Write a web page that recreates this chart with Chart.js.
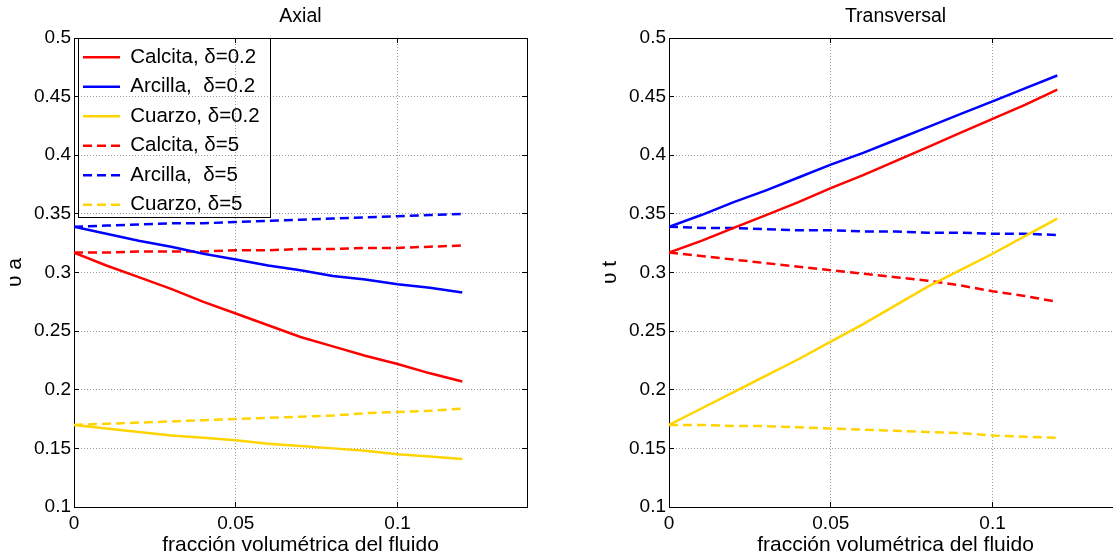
<!DOCTYPE html>
<html lang="es">
<head>
<meta charset="utf-8">
<title>Axial y Transversal</title>
<script src="https://cdn.jsdelivr.net/npm/chart.js@4/dist/chart.umd.min.js"></script>
<style>
  html, body { margin: 0; padding: 0; background: #fff; }
  #lienzo { position: relative; width: 1113px; height: 560px; overflow: hidden; }
  canvas { position: absolute; top: 0; }
  #axial { left: 0; }
  #transversal { left: 595px; }
</style>
</head>
<body>
<div id="lienzo">
  <canvas id="axial" width="601" height="560"></canvas>
  <canvas id="transversal" width="601" height="560"></canvas>
</div>
<script>
// eje x: fracción volumétrica del fluido
const fraccion = [0, 0.01, 0.02, 0.03, 0.04, 0.05, 0.06, 0.07, 0.08, 0.09, 0.10, 0.11, 0.12];
const ticksX = [0, 0.05, 0.1];
const ticksY = [0.1, 0.15, 0.2, 0.25, 0.3, 0.35, 0.4, 0.45, 0.5];

const etiquetas = ['Calcita, δ=0.2', 'Arcilla,  δ=0.2', 'Cuarzo, δ=0.2',
                   'Calcita, δ=5', 'Arcilla,  δ=5', 'Cuarzo, δ=5'];

// Axial (υ a)
const calcitaAx02 = [0.317, 0.306, 0.296, 0.286, 0.275, 0.265, 0.255, 0.245, 0.237, 0.229, 0.222, 0.214, 0.207];
const arcillaAx02 = [0.339, 0.333, 0.327, 0.322, 0.316, 0.311, 0.306, 0.302, 0.297, 0.294, 0.290, 0.287, 0.283];
const cuarzoAx02  = [0.170, 0.167, 0.164, 0.161, 0.159, 0.157, 0.154, 0.152, 0.150, 0.148, 0.145, 0.143, 0.141];
const calcitaAx5  = [0.317, 0.317, 0.318, 0.318, 0.318, 0.319, 0.319, 0.320, 0.320, 0.321, 0.321, 0.322, 0.323];
const arcillaAx5  = [0.339, 0.340, 0.341, 0.342, 0.342, 0.343, 0.344, 0.345, 0.346, 0.347, 0.348, 0.349, 0.350];
const cuarzoAx5   = [0.170, 0.171, 0.172, 0.173, 0.174, 0.175, 0.176, 0.177, 0.178, 0.180, 0.181, 0.182, 0.184];

// Transversal (υ t)
const calcitaTr02 = [0.317, 0.327, 0.338, 0.349, 0.360, 0.372, 0.383, 0.395, 0.407, 0.419, 0.431, 0.443, 0.456];
const arcillaTr02 = [0.339, 0.349, 0.360, 0.370, 0.381, 0.392, 0.402, 0.413, 0.424, 0.435, 0.446, 0.457, 0.468];
const cuarzoTr02  = [0.170, 0.184, 0.198, 0.212, 0.226, 0.241, 0.256, 0.272, 0.288, 0.302, 0.316, 0.331, 0.346];
const calcitaTr5  = [0.317, 0.314, 0.311, 0.308, 0.305, 0.302, 0.299, 0.296, 0.293, 0.289, 0.284, 0.280, 0.275];
const arcillaTr5  = [0.339, 0.338, 0.338, 0.337, 0.336, 0.336, 0.335, 0.335, 0.334, 0.334, 0.333, 0.333, 0.332];
const cuarzoTr5   = [0.170, 0.170, 0.169, 0.169, 0.168, 0.167, 0.166, 0.165, 0.164, 0.163, 0.161, 0.160, 0.159];

const colores = ['#ff0000', '#0000ff', '#ffd400', '#ff0000', '#0000ff', '#ffd400'];
const trazos = [[], [], [], [9, 5], [9, 5], [9, 5]];

Chart.defaults.font.family = '"Liberation Sans", Arial, sans-serif';
Chart.defaults.color = '#000';

// marco negro alrededor de la leyenda (como en MATLAB)
const marcoLeyenda = {
  id: 'marcoLeyenda',
  afterDraw(chart) {
    const lg = chart.legend;
    if (!lg || !lg.options.display || !lg.legendHitBoxes || !lg.legendHitBoxes.length) return;
    const cajas = lg.legendHitBoxes;
    const izq = Math.min(...cajas.map(c => c.left)) - 5;
    const der = Math.max(...cajas.map(c => c.left + c.width)) + 10;
    const arriba = chart.chartArea.top;
    const abajo = Math.max(...cajas.map(c => c.top + c.height)) + 2;
    const ctx = chart.ctx;
    ctx.save();
    ctx.strokeStyle = '#000';
    ctx.lineWidth = 1;
    ctx.strokeRect(Math.round(izq) + 0.5, Math.round(arriba) + 0.5, Math.round(der - izq), Math.round(abajo - arriba));
    ctx.restore();
  }
};

const rejilla = { color: '#9a9a9a', lineWidth: 1, tickLength: -5, tickColor: '#000', tickBorderDash: [] };
const borde = { color: '#000', width: 1, dash: [1, 2] };

function crearGrafico(id, titulo, ejeY, series, conLeyenda) {
  const datasets = series.map((vals, i) => ({
    label: etiquetas[i],
    data: fraccion.map((x, j) => ({ x: x, y: vals[j] })),
    borderColor: colores[i],
    backgroundColor: colores[i],
    borderDash: trazos[i],
    borderWidth: 2.5,
    pointRadius: 0,
    tension: 0,
    fill: false
  }));

  return new Chart(document.getElementById(id), {
    type: 'line',
    data: { datasets },
    plugins: [marcoLeyenda],
    options: {
      responsive: false,
      animation: false,
      events: [],
      layout: { padding: 0 },
      scales: {
        x: {
          type: 'linear', position: 'bottom', min: 0, max: 0.14,
          afterBuildTicks: s => { s.ticks = ticksX.map(v => ({ value: v })); },
          afterFit: s => { s.height = 53; },
          ticks: { font: { size: 19 }, padding: 10, color: '#000', callback: v => String(v) },
          grid: rejilla,
          border: borde,
          title: { display: true, text: 'fracción volumétrica del fluido', color: '#000',
                   font: { size: 21 }, padding: { top: 0, bottom: 2 } }
        },
        x2: {
          type: 'linear', position: 'top', min: 0, max: 0.14,
          afterBuildTicks: s => { s.ticks = ticksX.map(v => ({ value: v })); },
          afterFit: s => { s.height = 0; },
          ticks: { display: false },
          grid: { drawOnChartArea: false, tickLength: -5, color: '#000', tickBorderDash: [] },
          border: { color: '#000', width: 1 }
        },
        y: {
          type: 'linear', position: 'left', min: 0.1, max: 0.5,
          afterBuildTicks: s => { s.ticks = ticksY.map(v => ({ value: v })); },
          afterFit: s => { s.width = 74; },
          ticks: { font: { size: 19 }, padding: 8, color: '#000', callback: v => String(v) },
          grid: rejilla,
          border: borde,
          title: { display: true, text: ejeY, color: '#000',
                   font: { size: 21 }, padding: { top: 3, bottom: 0 } }
        },
        y2: {
          type: 'linear', position: 'right', min: 0.1, max: 0.5,
          afterBuildTicks: s => { s.ticks = ticksY.map(v => ({ value: v })); },
          afterFit: s => { s.width = 74; },
          ticks: { display: false },
          grid: { drawOnChartArea: false, tickLength: -5, color: '#000', tickBorderDash: [] },
          border: { color: '#000', width: 1 }
        }
      },
      plugins: {
        title: {
          display: true, text: titulo, color: '#000',
          font: { size: 19.5, weight: 'normal' },
          padding: { top: 5, bottom: 9.6 }
        },
        legend: {
          display: conLeyenda,
          position: 'chartArea',
          align: 'start',
          // el título vacío baja la leyenda hasta el borde superior de los ejes
          title: { display: true, text: '', font: { size: 10, lineHeight: 1 }, padding: { top: 28, bottom: 0 } },
          labels: {
            usePointStyle: true,
            pointStyleWidth: 37,
            padding: 9,
            color: '#000',
            font: { size: 20.5 },
            generateLabels: chart => chart.data.datasets.map((ds, i) => ({
              text: ds.label,
              fillStyle: ds.borderColor,
              strokeStyle: ds.borderColor,
              lineWidth: 2.5,
              lineDash: ds.borderDash,
              pointStyle: 'line',
              fontColor: '#000',
              hidden: false,
              datasetIndex: i
            }))
          }
        },
        tooltip: { enabled: false }
      }
    }
  });
}

crearGrafico('axial', 'Axial', 'υ a',
  [calcitaAx02, arcillaAx02, cuarzoAx02, calcitaAx5, arcillaAx5, cuarzoAx5], true);
crearGrafico('transversal', 'Transversal', 'υ t',
  [calcitaTr02, arcillaTr02, cuarzoTr02, calcitaTr5, arcillaTr5, cuarzoTr5], false);
</script>
</body>
</html>
